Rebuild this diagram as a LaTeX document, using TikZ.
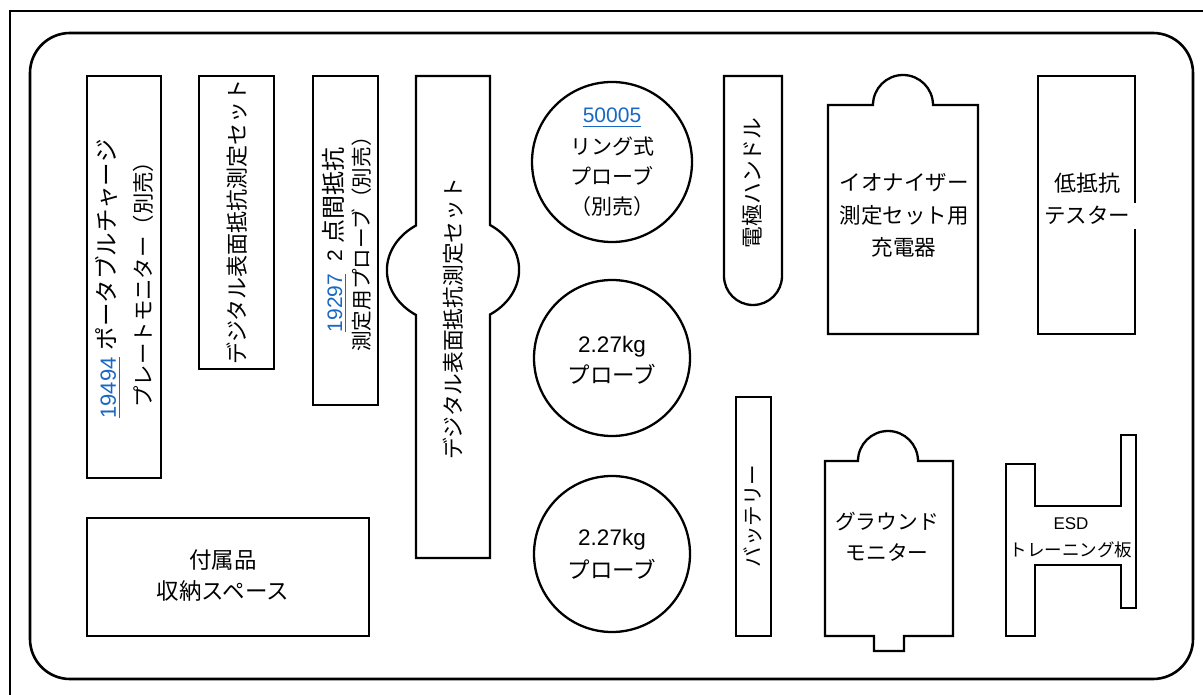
\documentclass[tikz,border=0pt]{standalone}
\usepackage{fontspec}
\setmainfont{Noto Sans CJK JP}
\newfontfamily\latf{Liberation Sans}
\definecolor{linkblue}{RGB}{24,104,196}
\newcommand\fsz[1]{\fontsize{#1}{#1}\selectfont}
\newcommand\cjst{\vrule width0pt height0.88em depth0.12em\relax}
\newcommand\lnk[1]{{\color{linkblue}\setbox0=\hbox{\latf #1}\rlap{\smash{\rule[-4pt]{\wd0}{1.3pt}}}\box0}}
\begin{document}
\begin{tikzpicture}[x=1pt,y=-1pt,
  shp/.style={draw=black,line width=2.3pt,fill=white},
  lbl/.style={inner sep=0pt,outer sep=0pt},
  vlbl/.style={lbl,rotate=90}]
\useasboundingbox (0,0) rectangle (1203,695);
\fill[white] (0,0) rectangle (1203,695);
% frames
\draw[line width=2pt] (10,705) -- (10,11) -- (1213,11);
\draw[line width=2.6pt, rounded corners=40pt] (30,33) rectangle (1193,679);
% shapes
\draw[shp] (87,76) rectangle (161,478);
\draw[shp] (199,76) rectangle (274,369);
\draw[shp] (313,76) rectangle (378,405);
\draw[shp] (416,76) -- (490,76) -- (490,225)
  arc[start angle=56, end angle=-56, x radius=66pt, y radius=54pt]
  -- (490,558) -- (416,558) -- (416,315)
  arc[start angle=236, end angle=124, x radius=66pt, y radius=54pt] -- cycle;
\draw[shp] (612,162) circle[radius=80pt];
\draw[shp] (612,358) circle[radius=78pt];
\draw[shp] (612,554) circle[radius=78pt];
\draw[shp] (724,76) -- (782,76) -- (782,276) arc[start angle=0,end angle=-180,radius=29pt] -- cycle;
\draw[shp] (736,397) rectangle (771,636);
\draw[shp] (828,105) -- (873,105) arc[start angle=180,end angle=0,radius=30pt] -- (978,105) -- (978,334) -- (828,334) -- cycle;
\draw[shp] (1135,203) -- (1135,76) -- (1038,76) -- (1038,334) -- (1135,334) -- (1135,229);
\draw[shp] (825,461) -- (858,461) arc[start angle=180,end angle=0,radius=30pt] -- (953,461) -- (953,636) -- (904,636) -- (904,651) -- (874,651) -- (874,636) -- (825,636) -- cycle;
\draw[shp] (1006,464) -- (1035,464) -- (1035,506) -- (1121,506) -- (1121,435) -- (1136,435) -- (1136,608) -- (1121,608) -- (1121,565) -- (1035,565) -- (1035,636) -- (1006,636) -- cycle;
\draw[shp] (87,518) rectangle (369,636);
% vertical labels
\node[vlbl,font=\fsz{23.5}] (t1a) at (107,279) {\cjst{\fsz{22}\lnk{19494}}\hspace{7pt}ポータブルチャージ};
\node[vlbl,font=\fsz{21.4}] (t1b) at (143,279) {\cjst プレートモニター（別売）};
\node[vlbl,font=\fsz{22}] (t2) at (237,222) {\cjst デジタル表面抵抗測定セット};
\node[vlbl,font=\fsz{24}] (t3a) at (333,240) {\cjst{\fsz{21}\lnk{19297}}\hspace{12pt}{\fsz{21}\latf 2}\hspace{6pt}点間抵抗};
\node[vlbl,font=\fsz{20.6}] (t3b) at (362,239) {\cjst 測定用プローブ（別売）};
\node[vlbl,font=\fsz{21.7}] (t4) at (453,319) {\cjst デジタル表面抵抗測定セット};
\node[vlbl,font=\fsz{21.7}] (t5) at (752,183) {\cjst 電極ハンドル};
\node[vlbl,font=\fsz{20.5}] (t6) at (753,516) {\cjst バッテリー};
% circle labels
\node[lbl,font=\fsz{21}] (c1a) at (612,115) {\cjst\lnk{50005}};
\node[lbl,font=\fsz{21}] (c1b) at (612,147) {\cjst リング式};
\node[lbl,font=\fsz{21}] (c1c) at (612,177) {\cjst プローブ};
\node[lbl,font=\fsz{21}] (c1d) at (612,207) {\cjst （別売）};
\node[lbl,font=\fsz{22.5}] (c2a) at (612,345) {\cjst{\latf 2.27kg}};
\node[lbl,font=\fsz{22.5}] (c2b) at (612,375) {\cjst プローブ};
\node[lbl,font=\fsz{22.5}] (c3a) at (612,538) {\cjst{\latf 2.27kg}};
\node[lbl,font=\fsz{22.5}] (c3b) at (612,570) {\cjst プローブ};
% other labels
\node[lbl,font=\fsz{21.5}] (i1) at (904,182) {\cjst イオナイザー};
\node[lbl,font=\fsz{21.5}] (i2) at (904,215) {\cjst 測定セット用};
\node[lbl,font=\fsz{21.5}] (i3) at (904,247) {\cjst 充電器};
\node[lbl,font=\fsz{22}] (r1) at (1087,183) {\cjst 低抵抗};
\node[lbl,font=\fsz{21.5}] (r2) at (1087,215) {\cjst テスター};
\node[lbl,font=\fsz{20.7}] (g1) at (887,522) {\cjst グラウンド};
\node[lbl,font=\fsz{20.7}] (g2) at (887,553) {\cjst モニター};
\node[lbl,font=\fsz{17}] (e1) at (1071,523) {\cjst{\latf ESD}};
\node[lbl,font=\fsz{17.5}] (e2) at (1071,550) {\cjst トレーニング板};
\node[lbl,font=\fsz{22.5}] (a1) at (223,560) {\cjst 付属品};
\node[lbl,font=\fsz{22.5}] (a2) at (223,591) {\cjst 収納スペース};
\end{tikzpicture}
\end{document}
